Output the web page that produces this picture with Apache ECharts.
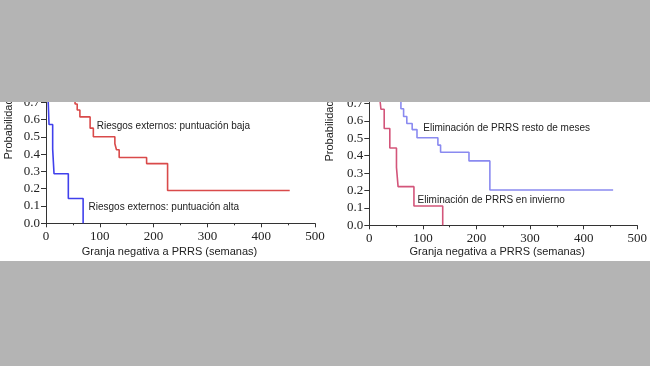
<!DOCTYPE html>
<html>
<head>
<meta charset="utf-8">
<script src="https://cdn.jsdelivr.net/npm/echarts@6/dist/echarts.min.js"></script>
<style>
html,body{margin:0;padding:0;background:#fff;}
#chart{width:650px;height:366px;}
</style>
</head>
<body>
<div id="chart"></div>
<script>
// ---- data (weeks, survival probability) ----
const leftLowWeeks  = [0, 25, 40, 48, 54, 58, 63, 82, 88, 128, 131, 136, 187, 226, 453];
const leftLowProb   = [1, 0.93, 0.86, 0.76, 0.69, 0.655, 0.615, 0.55, 0.5, 0.46, 0.425, 0.38, 0.345, 0.19, 0.19];
const leftHighWeeks = [0, 2, 4, 5.6, 12.4, 14.9, 41.5, 69];
const leftHighProb  = [1, 0.857, 0.714, 0.571, 0.429, 0.286, 0.143, 0];
const rightRestWeeks = [0, 40, 55, 59, 64, 70, 80, 89, 128, 133, 186, 225, 455];
const rightRestProb  = [1, 0.85, 0.75, 0.67, 0.625, 0.585, 0.55, 0.503, 0.461, 0.42, 0.37, 0.203, 0.203];
const rightWinterWeeks = [0, 10, 18, 21.7, 27.8, 38.3, 50.7, 53.7, 83.3, 137];
const rightWinterProb  = [1, 0.889, 0.778, 0.667, 0.556, 0.444, 0.333, 0.222, 0.111, 0];

const xMin = 0, xMax = 500, xStep = 100;
const yMin = 0, yMax = 1, yStep = 0.1;

const labels = {
  leftLow: 'Riesgos externos: puntuación baja',
  leftHigh: 'Riesgos externos: puntuación alta',
  rightRest: 'Eliminación de PRRS resto de meses',
  rightWinter: 'Eliminación de PRRS en invierno',
  xName: 'Granja negativa a PRRS (semanas)',
  yName: 'Probabilidad'
};

const zip = (a, b) => a.map((v, i) => [v, b[i]]);

const serif = 'Liberation Serif';
const sans = 'Liberation Sans';
const axisColor = '#333';

function xAxisOf(gridIndex, gap, shift) {
  return {
    type: 'value', gridIndex, min: xMin, max: xMax, interval: xStep,
    name: labels.xName, nameLocation: 'middle', nameGap: gap,
    nameTextStyle: { fontFamily: sans, fontSize: 11, color: '#222', padding: [0, shift, 0, 0] },
    axisLine: { lineStyle: { color: axisColor, width: 1 } },
    axisTick: { show: true, length: 4, lineStyle: { color: axisColor } },
    minorTick: { show: true, splitNumber: 2, length: 2, lineStyle: { color: axisColor } },
    axisLabel: { fontFamily: serif, fontSize: 13, color: '#222', margin: 7 },
    splitLine: { show: false }
  };
}
function yAxisOf(gridIndex) {
  return {
    type: 'value', gridIndex, min: yMin, max: yMax, interval: yStep,
    axisLine: { show: true, lineStyle: { color: axisColor, width: 1 } },
    axisTick: { show: true, length: 5, lineStyle: { color: axisColor } },
    axisLabel: { fontFamily: serif, fontSize: 13, color: '#222', margin: 6,
      formatter: v => v.toFixed(1) },
    splitLine: { show: false }
  };
}
function stepSeries(idx, data, color) {
  return {
    type: 'line', xAxisIndex: idx, yAxisIndex: idx, step: 'end',
    data, symbol: 'none', animation: false,
    lineStyle: { color, width: 1.6 }
  };
}
function txt(x, y, text, extra) {
  return Object.assign({
    type: 'text', x, y, z: 50,
    style: { text, fontFamily: sans, fontSize: 10, fill: '#222', textAlign: 'left', textVerticalAlign: 'middle' }
  }, extra || {});
}

const chart = echarts.init(document.getElementById('chart'), null, { renderer: 'canvas' });
chart.setOption({
  animation: false,
  backgroundColor: '#ffffff',
  grid: [
    { left: 46, top: 50.3, width: 269, height: 173 },
    { left: 369.3, top: 51.3, width: 270, height: 174 }
  ],
  xAxis: [xAxisOf(0, 23, 22), xAxisOf(1, 20, 12)],
  yAxis: [yAxisOf(0), yAxisOf(1)],
  series: [
    stepSeries(0, zip(leftLowWeeks, leftLowProb), '#d94a4a'),
    stepSeries(0, zip(leftHighWeeks, leftHighProb), '#4040ec'),
    stepSeries(1, zip(rightRestWeeks, rightRestProb), '#8a8af0'),
    stepSeries(1, zip(rightWinterWeeks, rightWinterProb), '#d3557a')
  ],
  graphic: [
    txt(96.7, 126.7, labels.leftLow),
    txt(88.5, 207.3, labels.leftHigh),
    txt(423.3, 128.3, labels.rightRest),
    txt(417.5, 200.5, labels.rightWinter),
    { type: 'text', x: 8.5, y: 129, rotation: Math.PI / 2, z: 50,
      style: { text: labels.yName, fontFamily: sans, fontSize: 11, fill: '#222', textAlign: 'center', textVerticalAlign: 'middle' } },
    { type: 'text', x: 330, y: 131, rotation: Math.PI / 2, z: 50,
      style: { text: labels.yName, fontFamily: sans, fontSize: 11, fill: '#222', textAlign: 'center', textVerticalAlign: 'middle' } },
    { type: 'rect', z: 1000, shape: { x: 0, y: 0, width: 650, height: 102 }, style: { fill: '#b4b4b4' } },
    { type: 'rect', z: 1000, shape: { x: 0, y: 261, width: 650, height: 105 }, style: { fill: '#b4b4b4' } }
  ]
});
</script>
</body>
</html>
